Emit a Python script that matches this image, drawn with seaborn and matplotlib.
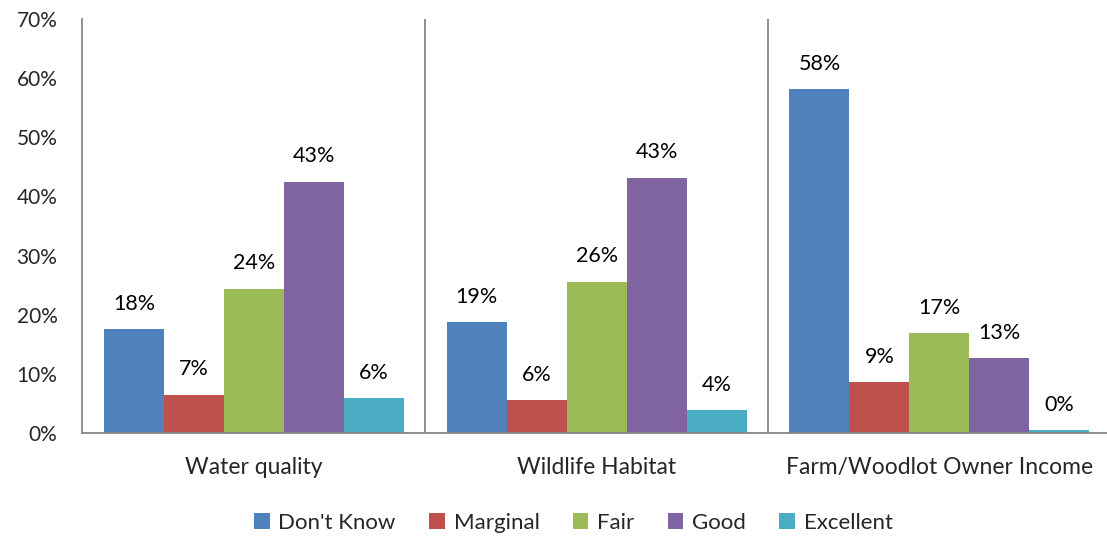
import matplotlib
matplotlib.use("Agg")
import matplotlib.pyplot as plt
import seaborn as sns
import pandas as pd
from matplotlib.patches import Patch

categories = ["Water quality", "Wildlife Habitat", "Farm/Woodlot Owner Income"]
series = ["Don't Know", "Marginal", "Fair", "Good", "Excellent"]
dont_know = [17.6, 18.8, 58.2]
marginal = [6.5, 5.5, 8.6]
fair = [24.4, 25.6, 16.9]
good = [42.5, 43.2, 12.7]
excellent = [5.9, 3.9, 0.45]
labels = [["18%", "19%", "58%"], ["7%", "6%", "9%"], ["24%", "26%", "17%"],
          ["43%", "43%", "13%"], ["6%", "4%", "0%"]]
colors = ["#4F81BD", "#C0504D", "#9BBB59", "#8064A2", "#4BACC6"]

values = [dont_know, marginal, fair, good, excellent]
rows = []
for s, vals in zip(series, values):
    for c, v in zip(categories, vals):
        rows.append({"category": c, "series": s, "value": v})
df = pd.DataFrame(rows)

sns.set_style("white")
plt.rcParams["font.family"] = ["Lato", "DejaVu Sans"]

fig = plt.figure(figsize=(11.07, 5.37), dpi=100)
ax = fig.add_axes([0.0745, 0.1937, 0.929, 0.7709])
sns.barplot(data=df, x="category", y="value", hue="series", order=categories,
            hue_order=series, palette=colors, width=0.875, gap=0,
            saturation=1, ax=ax, legend=False, errorbar=None, linewidth=0)

for cont, labs in zip(ax.containers, labels):
    ax.bar_label(cont, labels=labs, padding=11, fontsize=15.5, color="#000000")

ax.set_ylim(0, 70)
ax.set_xlim(-0.5, 2.5)
ax.set_yticks(range(0, 71, 10))
ax.set_yticklabels([f"{t}%" for t in range(0, 71, 10)], fontsize=15)
ax.tick_params(axis="x", labelsize=16.5, pad=17, length=0)
ax.tick_params(axis="y", length=0, pad=18)
ax.set_xlabel("")
ax.set_ylabel("")
for sp in ["top", "right"]:
    ax.spines[sp].set_visible(False)
for sp in ["left", "bottom"]:
    ax.spines[sp].set_color("#868686")
    ax.spines[sp].set_linewidth(1.3)
for xb in [0.5, 1.5]:
    ax.axvline(xb, color="#868686", lw=1.3)

handles = [Patch(facecolor=c, edgecolor="none") for c in colors]
fig.legend(handles, series, loc="center", bbox_to_anchor=(0.518, 0.027), ncol=5,
           frameon=False, fontsize=16, handlelength=0.7, handleheight=0.7,
           handletextpad=0.4, columnspacing=1.5)

fig.savefig("out.png", dpi=100)
